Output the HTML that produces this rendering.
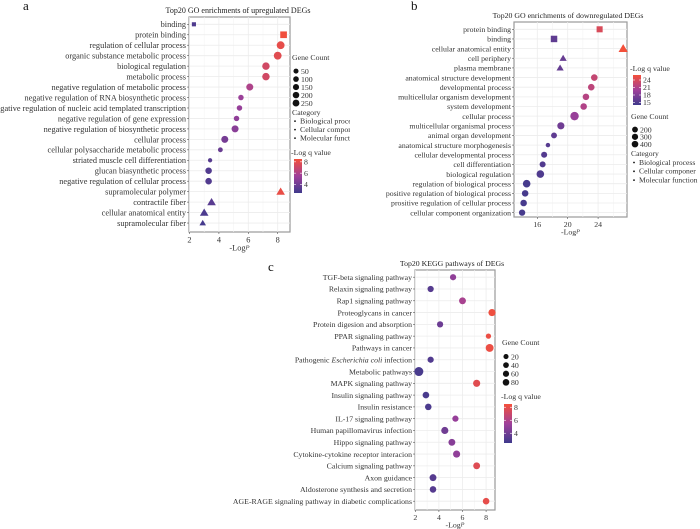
<!DOCTYPE html>
<html><head><meta charset="utf-8"><style>
html,body{margin:0;padding:0;background:#fff;}
svg{display:block;font-family:"Liberation Serif",serif;}
</style></head><body>
<svg id="fig" width="700" height="529" viewBox="0 0 700 529" xmlns="http://www.w3.org/2000/svg">
<defs>
<linearGradient id="qg" x1="0" y1="1" x2="0" y2="0"><stop offset="0" stop-color="#3f3a8c"/><stop offset="0.5" stop-color="#a0409a"/><stop offset="1" stop-color="#f4503a"/></linearGradient>
<clipPath id="clipA"><rect x="0" y="0" width="350" height="260"/></clipPath>
</defs>
<g id="pa" clip-path="url(#clipA)"></g>
<g id="pb"></g>
<g id="pc"></g>
</svg>
<script>
// Panel a data
const aTerms=["binding","protein binding","regulation of cellular process","organic substance metabolic process","biological regulation","metabolic process","negative regulation of metabolic process","negative regulation of RNA biosynthetic process","negative regulation of nucleic acid templated transcription","negative regulation of gene expression","negative regulation of biosynthetic process","cellular process","cellular polysaccharide metabolic process","striated muscle cell differentiation","glucan biasynthetic process","negative regulation of cellular process","supramolecular polymer","contractile fiber","cellular anatomical entity","supramolecular fiber"];
const aLogP=[2.3,8.4,8.2,8.0,7.2,7.2,6.1,5.5,5.4,5.2,5.1,4.4,4.1,3.4,3.3,3.3,8.2,3.5,3.0,2.9];
const aLogQ=[3.0,8.4,8.0,7.8,7.2,7.2,6.0,5.3,5.2,5.0,4.8,4.2,3.8,3.2,3.1,3.1,8.1,3.3,2.9,2.7];
const aCount=[40,200,200,200,170,170,140,60,60,60,140,140,40,30,110,110,200,200,200,80];
const aCat=["MF","MF","BP","BP","BP","BP","BP","BP","BP","BP","BP","BP","BP","BP","BP","BP","CC","CC","CC","CC"];
const aXTicks=[2,4,6,8];
const aCountTicks=[50,100,150,200,250];
const aQTicks=[8,6,4];
// Panel b data
const bTerms=["protein binding","binding","cellular anatomical entity","cell periphery","plasma membrane","anatomical structure development","developmental process","multicellular organism development","system development","cellular process","multicellular organismal process","animal organ development","anatomical structure morphogenesis","cellular developmental process","cell differentiation","biological regulation","regulation of biological process","positive regulation of biological process","prositive regulation of cellular process","cellular component organization"];
const bLogP=[24.2,18.2,27.3,19.4,19.0,23.5,23.1,22.4,22.1,20.9,19.1,18.2,17.4,16.9,16.7,16.4,14.6,14.4,14.2,14.0];
const bLogQ=[24.0,16.0,26.0,16.5,16.3,22.5,22.0,21.5,21.2,19.5,17.0,16.0,15.5,15.3,15.2,15.0,14.5,14.5,14.5,14.5];
const bCount=[250,300,400,200,200,200,200,200,200,400,250,150,80,160,160,300,300,200,200,180];
const bCat=["MF","MF","CC","CC","CC","BP","BP","BP","BP","BP","BP","BP","BP","BP","BP","BP","BP","BP","BP","BP"];
const bXTicks=[16,20,24];
const bCountTicks=[200,300,400];
const bQTicks=[24,21,18,15];
// Panel c data
const cTerms=["TGF-beta signaling pathway","Relaxin signaling pathway","Rap1 signaling pathway","Proteoglycans in cancer","Protein digesion and absorption","PPAR signaling pathway","Pathways in cancer","Pathogenic |Escherichia coli| infection","Metabolic pathways","MAPK signaling pathway","Insulin signaling pathway","Insulin resistance","IL-17 signaling pathway","Human papillomavirus infection","Hippo signaling pathway","Cytokine-cytokine receptor interacion","Calcium signaling pathway","Axon guidance","Aldosterone synthesis and secretion","AGE-RAGE signaling pathway in diabetic complications"];
const cLogP=[5.2,3.3,6.0,8.5,4.1,8.2,8.3,3.3,2.3,7.2,2.9,3.1,5.4,4.5,5.1,5.5,7.2,3.5,3.5,8.0];
const cLogQ=[5.0,3.2,5.8,8.3,3.9,8.2,8.2,3.1,2.8,7.8,2.8,2.9,5.2,4.0,4.7,5.0,7.7,3.2,3.2,8.0];
const cCount=[30,30,40,45,30,20,60,30,90,45,35,35,30,45,40,45,40,40,35,35];
const cXTicks=[2,4,6,8];
const cCountTicks=[20,40,60,80];
const cQTicks=[8,6,4];

const NS="http://www.w3.org/2000/svg";
function mk(parent,tag,attrs,text){const e=document.createElementNS(NS,tag);for(const k in attrs)e.setAttribute(k,attrs[k]);if(text!==undefined)e.textContent=text;parent.appendChild(e);return e;}
function lerp(a,b,t){return Math.round(a+(b-a)*t);}
function qColor(t){t=Math.max(0,Math.min(1,t));const c0=[63,58,140],c1=[160,64,154],c2=[244,80,58];let a,b,u;if(t<0.5){a=c0;b=c1;u=t/0.5;}else{a=c1;b=c2;u=(t-0.5)/0.5;}return `rgb(${lerp(a[0],b[0],u)},${lerp(a[1],b[1],u)},${lerp(a[2],b[2],u)})`;}

function panel(g,cfg){
  const {x0,x1,y0,y1,xmin,pxPerUnit,rowTop,rowStep,terms,vals,qs,counts,cats,ticks,fs,qmin,qmax,rmin,rmax,cmin,cmax}=cfg;
  const xs=v=>cfg.xAt+(v-xmin)*pxPerUnit;
  const ys=i=>rowTop+i*rowStep;
  const rs=c=>rmin+(rmax-rmin)*Math.sqrt(Math.max(0,(c-cmin)/(cmax-cmin)));
  mk(g,'rect',{x:x0,y:y0,width:x1-x0,height:y1-y0,fill:'#fff',stroke:'#9a9a9a','stroke-width':1.2});
  ticks.forEach((t)=>{const gl=mk(g,'line',{x1:xs(t),x2:xs(t),y1:y0,y2:y1,stroke:'#ececec','stroke-width':0.8});
    const m=xs(t+(ticks[1]-ticks[0])/2);if(m<x1){mk(g,'line',{x1:m,x2:m,y1:y0,y2:y1,stroke:'#f4f4f4','stroke-width':0.6});}});
  terms.forEach((t,i)=>{mk(g,'line',{x1:x0,x2:x1,y1:ys(i),y2:ys(i),stroke:'#ececec','stroke-width':0.8});});
  terms.forEach((t,i)=>{
    const tx=mk(g,'text',{x:x0-3,y:ys(i)+fs*0.35,'text-anchor':'end','font-size':fs,fill:'#333'});
    
    
    const parts=t.split('|');parts.forEach((p,k)=>{const s=mk(tx,'tspan',{},p);if(k%2===1)s.setAttribute('font-style','italic');});
    mk(g,'line',{x1:x0-2,x2:x0,y1:ys(i),y2:ys(i),stroke:'#555','stroke-width':0.6});
  });
  ticks.forEach(t=>{mk(g,'line',{x1:xs(t),x2:xs(t),y1:y1,y2:y1+2,stroke:'#555','stroke-width':0.6});
    const tl=mk(g,'text',{x:xs(t),y:y1+fs+2,'text-anchor':'middle','font-size':fs,fill:'#333'},String(t));
    
    });
  const xt=mk(g,'text',{x:(x0+x1)/2,y:y1+2*fs+2,'text-anchor':'middle','font-size':fs,fill:'#333'});
  
  
  mk(xt,'tspan',{},'-Log');mk(xt,'tspan',{'font-style':'italic','font-size':fs*0.8,dy:-1},'P');
  vals.forEach((v,i)=>{
    const cx=xs(v),cy=ys(i),r=rs(counts[i]),col=qColor((qs[i]-qmin)/(qmax-qmin));
    const cat=cats?cats[i]:'BP';let m;
    if(cat==='MF'){const s=r*0.85;m=mk(g,'rect',{x:cx-s,y:cy-s,width:2*s,height:2*s,fill:col});}
    else if(cat==='CC'){const h=r*1.0;m=mk(g,'polygon',{points:`${cx},${cy-h*1.05} ${cx-h*1.1},${cy+h*0.8} ${cx+h*1.1},${cy+h*0.8}`,fill:col});}
    else{m=mk(g,'circle',{cx:cx,cy:cy,r:r,fill:col});}
    
    
  });
}
function title(g,x,y,t,fs){const e=mk(g,'text',{x:x,y:y,'text-anchor':'middle','font-size':fs,fill:'#222'},t);}
function letter(g,x,y,t){const e=mk(g,'text',{x:x,y:y,'font-size':13,fill:'#111'},t);}
function countLegend(g,x,y,ticks,step,fs,rfn){const h=mk(g,'text',{x:x,y:y,'font-size':fs,fill:'#333'},'Gene Count');
  ticks.forEach((c,i)=>{const yy=y+fs*0.6+step*(i+1)-step*0.2;mk(g,'circle',{cx:x+4,cy:yy,r:rfn(c),fill:'#111'});const t=mk(g,'text',{x:x+9,y:yy+fs*0.35,'font-size':fs,fill:'#333'},String(c));});}
function catLegend(g,x,y,fs,step,names){const h=mk(g,'text',{x:x,y:y,'font-size':fs,fill:'#333'},'Category');
  names.forEach((n,i)=>{const yy=y+step*(i+1);mk(g,'circle',{cx:x+3,cy:yy-fs*0.3,r:0.9,fill:'#111'});const t=mk(g,'text',{x:x+8,y:yy,'font-size':fs,fill:'#333'},n);});}
function qLegend(g,x,y,fs,by0,by1,ticks,qmin,qmax){const h=mk(g,'text',{x:x,y:y,'font-size':fs,fill:'#333'},'-Log q value');
  const bar=mk(g,'rect',{x:x+3,y:by0,width:8,height:by1-by0,fill:'url(#qg)'});
  ticks.forEach(t=>{const yy=by1-(t-qmin)/(qmax-qmin)*(by1-by0);mk(g,'line',{x1:x+3,x2:x+5,y1:yy,y2:yy,stroke:'#fff','stroke-width':0.6});mk(g,'line',{x1:x+9,x2:x+11,y1:yy,y2:yy,stroke:'#fff','stroke-width':0.6});const tl=mk(g,'text',{x:x+13,y:yy+fs*0.35,'font-size':fs,fill:'#333'},String(t));});}

const ga=document.getElementById('pa');
letter(ga,23,10,'a');
title(ga,238,13,'Top20 GO enrichments of upregulated DEGs',8);
panel(ga,{x0:189,x1:290,y0:17,y1:232,xAt:189.5,xmin:2,pxPerUnit:14.7,rowTop:24.3,rowStep:10.46,terms:aTerms,vals:aLogP,qs:aLogQ,counts:aCount,cats:aCat,ticks:aXTicks,fs:8.3,qmin:2.5,qmax:8.5,rmin:1.8,rmax:4.2,cmin:25,cmax:250});
countLegend(ga,292,60,aCountTicks,8,7.8,c=>1.8+1.6*Math.sqrt(c/250));
catLegend(ga,292,115,7.8,8.5,['Biological processes','Cellular components','Molecular functions']);
qLegend(ga,291,155,7.8,159,193,aQTicks,2.5,8.5);

const gb=document.getElementById('pb');
letter(gb,411,10,'b');
title(gb,568,18,'Top20 GO enrichments of downregulated DEGs',7.8);
panel(gb,{x0:514,x1:627,y0:22,y1:217,xAt:537.3,xmin:16,pxPerUnit:7.6,rowTop:29.3,rowStep:9.65,terms:bTerms,vals:bLogP,qs:bLogQ,counts:bCount,cats:bCat,ticks:bXTicks,fs:7.8,qmin:14,qmax:26,rmin:1.6,rmax:4.3,cmin:60,cmax:420});
qLegend(gb,630,71,7.8,75,105,bQTicks,14,26);
countLegend(gb,631,119,bCountTicks,7.3,7.8,c=>2+1.3*Math.sqrt(c/400));
catLegend(gb,631,156,7.6,8.8,['Biological process','Cellular componer','Molecular function']);

const gc=document.getElementById('pc');
letter(gc,268,271,'c');
title(gc,452,266,'Top20 KEGG pathways of DEGs',7.8);
panel(gc,{x0:415,x1:495,y0:270,y1:510,xAt:415.3,xmin:2,pxPerUnit:11.8,rowTop:277.2,rowStep:11.79,terms:cTerms,vals:cLogP,qs:cLogQ,counts:cCount,cats:null,ticks:cXTicks,fs:7.8,qmin:2.5,qmax:8.5,rmin:2,rmax:4.5,cmin:15,cmax:90});
countLegend(gc,502,345,cCountTicks,8.6,7.8,c=>1.8+1.5*Math.sqrt(c/80));
qLegend(gc,501,399,7.8,404,443,cQTicks,2.5,8.5);
</script>
</body></html>
